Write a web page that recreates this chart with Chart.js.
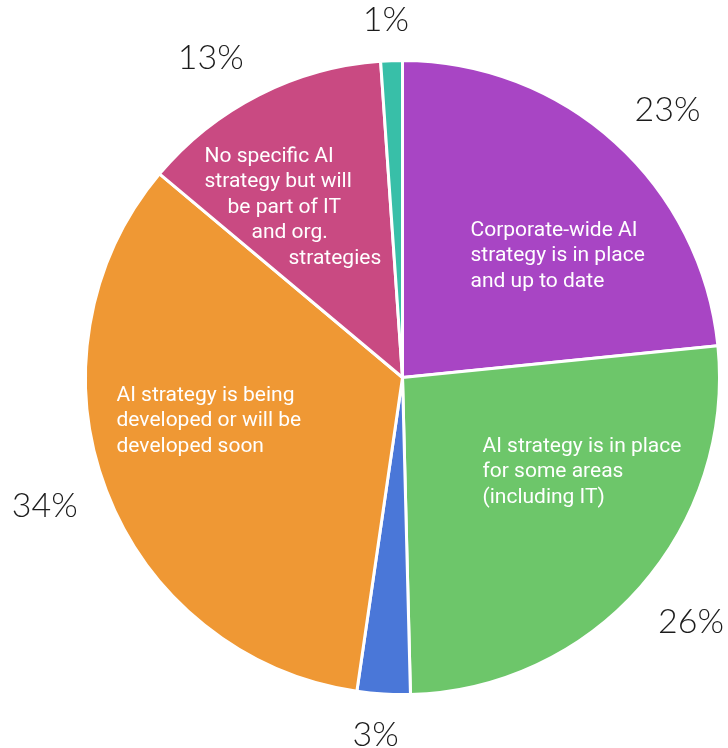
<!DOCTYPE html>
<html>
<head>
<meta charset="utf-8">
<script src="https://cdn.jsdelivr.net/npm/chart.js@4.4.1/dist/chart.umd.min.js"></script>
<style>
  html, body { margin: 0; padding: 0; background: #fff; }
  #wrap { width: 728px; height: 748px; }
</style>
</head>
<body>
<div id="wrap"><canvas id="pie" width="728" height="748"></canvas></div>
<script>
// slices clockwise from 12 o'clock
const categories = [
  "Corporate-wide AI strategy is in place and up to date",
  "AI strategy is in place for some areas (including IT)",
  "Other",
  "AI strategy is being developed or will be developed soon",
  "No specific AI strategy but will be part of IT and org. strategies",
  "Don't know"
];
const values = [23.4, 26.2, 2.7, 33.8, 12.8, 1.1];
const colors = ["#a845c4", "#6dc66a", "#4a77d8", "#ef9834", "#c94a82", "#38bfa8"];
const labelLines = [
  ["Corporate-wide AI", "strategy is in place", "and up to date"],
  ["AI strategy is in place", "for some areas", "(including IT)"],
  [],
  ["AI strategy is being", "developed or will be", "developed soon"],
  ["No specific AI", "strategy but will", "be part of IT", "and org.", "strategies"],
  []
];

// where the inner text sits, relative to the pie centre
const labelAnchors = [
  { dx: [68], dy: -142 },
  { dx: [80], dy: 74 },
  null,
  { dx: [-286], dy: 23 },
  { dx: [-198, -198, -175, -151, -114], dy: -216 },
  null
];
// small angle nudges (radians) for the outside percentages
const pctNudge = [0.045, -0.02, 0.015, 0.02, -0.07, -0.012];

const sliceText = {
  id: "sliceText",
  afterDatasetsDraw(chart) {
    const ctx = chart.ctx;
    const arcs = chart.getDatasetMeta(0).data;
    ctx.save();
    arcs.forEach((arc, i) => {
      const p = arc.getProps(["x", "y", "startAngle", "endAngle", "outerRadius"], true);
      const mid = (p.startAngle + p.endAngle) / 2 + pctNudge[i];
      const c = Math.cos(mid), s = Math.sin(mid);

      // percentage outside the pie
      ctx.font = "300 34px Lato, 'Open Sans', sans-serif";
      ctx.fillStyle = "#1c1c1c";
      ctx.textAlign = "center";
      ctx.textBaseline = "middle";
      const txt = Math.round(values[i]) + "%";
      const w = ctx.measureText(txt).width;
      const h = 24;
      const r = p.outerRadius + 28 + Math.abs(c) * w / 2 + Math.abs(s) * h / 2;
      ctx.fillText(txt, p.x + c * r, p.y + s * r);

      // category text inside the slice
      const a = labelAnchors[i];
      if (!a) return;
      ctx.font = "21px Roboto, sans-serif";
      ctx.fillStyle = "#fff";
      ctx.textAlign = "left";
      ctx.textBaseline = "alphabetic";
      labelLines[i].forEach((line, j) => {
        const dx = a.dx[j] !== undefined ? a.dx[j] : a.dx[0];
        ctx.fillText(line, p.x + dx, p.y + a.dy + j * 25.5);
      });
    });
    ctx.restore();
  }
};

new Chart(document.getElementById("pie").getContext("2d"), {
  type: "pie",
  data: {
    labels: categories,
    datasets: [
      {
        data: values,
        backgroundColor: colors,
        borderColor: "#fff",
        borderWidth: 3,
      },
    ],
  },
  options: {
    responsive: false,
    animation: false,
    events: [],
    layout: {
      padding: { top: 59, left: 84, right: 7, bottom: 52 },
    },
    plugins: {
      legend: { display: false },
      tooltip: { enabled: false },
    },
  },
  plugins: [sliceText],
});
</script>
</body>
</html>
